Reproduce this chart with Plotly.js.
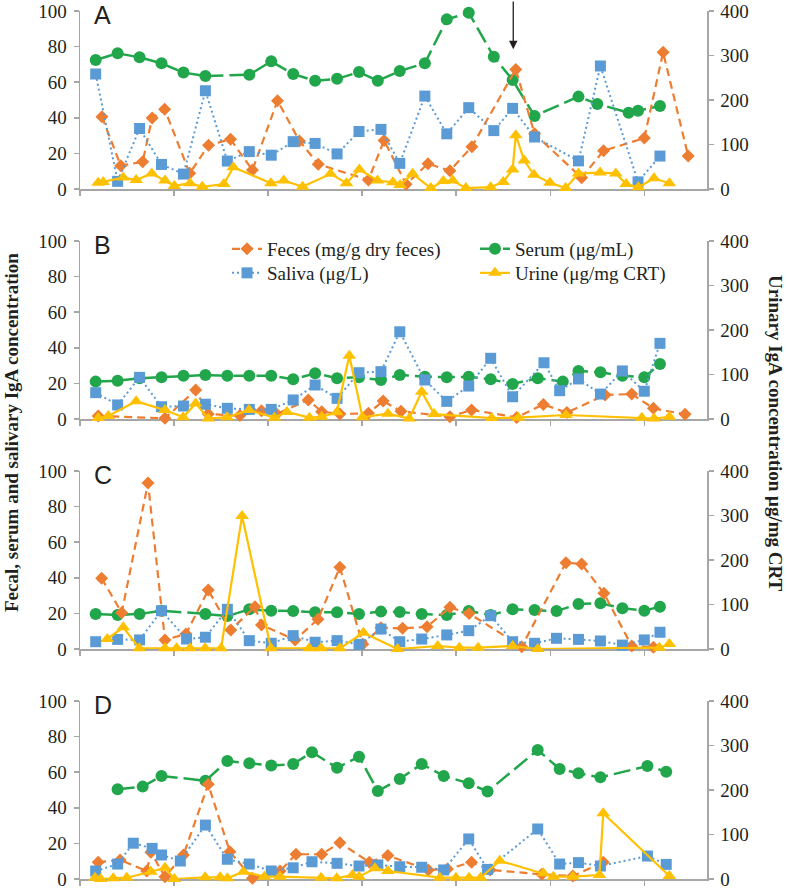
<!DOCTYPE html>
<html><head><meta charset="utf-8">
<script src="https://cdn.plot.ly/plotly-3.0.1.min.js"></script>
<style>html,body{margin:0;padding:0;background:#fff;}#chart{width:788px;height:889px;}</style>
</head><body><div id="chart"></div>
<script>
// ---------- DATA (x = day of sampling, y = concentration) ----------
const panelLabels = ['A', 'B', 'C', 'D'];
const seriesNames = ['Feces (mg/g dry feces)', 'Serum (μg/mL)', 'Saliva (μg/L)', 'Urine (μg/mg CRT)'];
const leftTicks = [0, 20, 40, 60, 80, 100];
const rightTicks = [0, 100, 200, 300, 400];

// Panel A
const serumDaysA = [5,12,19,26,33,40,54,61,68,75,82,89,95,102,110,117,124,132,138,145,159,165,175,178,185];
const serumA = [72.5,76.2,74.0,70.6,65.4,63.5,64.2,71.7,64.6,60.8,61.9,65.7,60.8,66.3,70.6,95.3,99.0,74.3,61.2,41.0,51.9,47.8,42.9,44.0,46.6];
const salivaDaysA = [5,12,19,26,33,40,47,54,61,68,75,82,89,96,102,110,117,124,132,138,145,159,166,178,185];
const salivaA = [64.6,4.3,34.0,13.8,8.4,55.2,15.7,21.0,19.0,26.6,25.6,19.7,32.3,33.5,14.4,52.2,31.0,45.7,32.8,45.3,29.2,15.8,69.1,4.0,18.5];
const fecesDaysA = [7,13,20,23,27,35,41,48,55,63,70,76,92,97,104,111,118,125,139,145,160,167,180,186,194];
const fecesA = [40.6,13.1,15.3,39.9,44.8,8.8,24.6,27.9,10.7,49.6,27.0,13.9,5.1,27.3,2.7,14.2,10.3,23.8,67.2,31.0,6.3,21.5,28.6,76.8,18.5];
const urineDaysA = [5.8,7.4,13.8,17.9,22.9,27.1,30.1,35.1,39.0,45.9,48.9,60.9,65.0,71.0,79.9,85.0,89.1,94.9,99.8,102.1,106.1,111.9,115.9,118.9,123.1,131.0,135.0,138.0,139.0,141.7,144.8,149.9,154.9,159.0,165.9,170.9,174.2,178.1,183.1,188.0];
const urineA = [14,16,26,20,35,19,7,13,5,11,49,13,19,5,34,13,44,19,15,9,34,2,18,19,2,4,16,44,121,64,32,14,2,35,37,35,11,4,24,13];

// Panel B
const serumDaysB = [5,12,19,26,33,40,47,54,61,68,75,82,89,96,102,110,117,124,131,138,146,154,159,166,173,180,185];
const serumB = [21.0,21.5,22.9,23.4,24.3,24.7,24.3,24.3,24.3,22.3,25.7,22.9,23.4,21.9,24.7,23.8,23.4,23.8,22.3,19.7,22.9,21.0,27.0,26.2,24.3,23.4,30.9];
const salivaDaysB = [5,12,19,26,33,40,47,54,61,68,75,82,89,96,102,110,117,124,131,138,148,153,159,166,173,180,185];
const salivaB = [14.8,7.9,23.4,6.9,7.3,8.3,6.0,5.4,5.4,10.7,19.1,11.6,26.0,26.6,49.0,21.9,9.9,18.5,34.1,12.5,31.6,15.9,22.5,14.0,27.0,15.6,42.5];
const fecesDaysB = [5.8,27.1,36.9,40.9,51.0,57.9,62.7,72.8,77.1,82.9,92.0,96.7,102.4,118.0,124.9,139.3,147.8,155.3,167.5,176.0,182.9,193.0];
const fecesB = [1.7,0.4,16.3,2.8,1.9,4.7,2.8,10.7,4.1,2.8,3.2,10.1,4.3,1.3,5.1,0.9,8.2,3.6,13.5,14.0,6.0,2.6];
const urineDaysB = [5.8,9.0,17.9,27.1,32.9,36.9,40.9,46.9,53.9,62.0,66.0,73.2,77.1,81.9,85.9,90.1,98.2,105.0,109.0,113.0,131.3,139.8,155.0,179.2,183.1,188.0];
const urineB = [2,7,40,20,4,35,1,4,20,3,16,3,5,15,142,4,12,1,61,11,2,3,9,3,1,5];

// Panel C
const serumDaysC = [5,12,19,26,40,47,54,61,68,75,82,89,96,102,109,117,124,131,138,145,152,159,166,173,180,185];
const serumC = [19.7,19.1,19.7,21.5,19.7,18.5,22.3,21.5,21.3,20.6,20.6,19.7,21.0,20.8,19.7,19.1,21.3,19.1,22.3,21.9,21.3,25.3,25.7,22.9,21.5,23.8];
const salivaDaysC = [5,12,19,26,34,40,47,54,61,68,75,82,89,96,102,109,117,124,131,138,145,152,159,166,173,180,185];
const salivaC = [4.1,5.4,5.1,21.5,5.6,6.6,22.3,4.7,3.2,7.5,3.8,4.7,2.6,11.2,4.1,5.6,7.9,10.3,18.7,4.1,3.2,6.0,5.4,4.5,2.2,5.1,9.4];
const fecesDaysC = [6.9,13.3,21.7,27.1,33.8,40.9,48.1,55.8,57.9,68.6,75.9,82.9,90.2,96.0,102.9,110.7,118.0,124.1,140.9,155.0,160.0,167.1,176.0,182.9];
const fecesC = [39.7,20.4,93.3,5.1,8.4,33.1,10.7,23.8,13.5,5.1,16.7,45.9,2.6,12.0,11.6,12.5,23.4,20.0,1.3,48.5,47.8,31.3,1.7,1.0];
const urineDaysC = [8.7,13.8,18.9,27.1,30.8,35.1,39.9,45.0,51.7,60.9,73.1,76.9,82.9,90.4,101.3,114.1,121.0,127.0,138.0,146.0,184.8,188.0];
const urineC = [22.5,48.8,1.6,1.6,1.6,1.6,1.6,1.6,299,1.6,1.6,1.6,1.6,36.6,0,6.7,3.0,3.0,6.7,0,3,11.2];

// Panel D
const serumDaysD = [12,20,26,40,47,54,61,68,74,82,89,95,102,109,116,124,130,146,153,159,166,181,187];
const serumD = [50.4,51.9,57.9,55.2,66.3,65.0,63.7,64.6,71.2,62.5,68.7,49.4,56.2,64.6,57.9,53.8,49.1,72.5,61.8,59.4,57.1,63.5,60.3];
const salivaDaysD = [5,12,17,23,26,32,40,47,54,61,68,74,82,89,95,102,109,116,124,130,146,153,159,166,181,187];
const salivaD = [4.5,8.4,20.1,17.2,13.5,10.1,30.3,11.1,8.4,4.5,6.3,9.7,8.8,7.3,7.9,6.9,6.6,5.1,22.5,5.4,28.1,8.4,9.2,7.3,12.9,8.2];
const fecesDaysD = [5.8,12.8,21.3,22.6,27.1,33.0,40.9,47.8,55.0,63.8,68.9,77.1,82.9,92.3,98.2,111.1,117.2,124.9,130.8,147.3,157.2,166.9];
const fecesD = [9.4,10.7,4.5,15.0,1.3,13.5,53.2,15.3,0.4,4.5,13.9,13.9,20.4,9.4,13.2,5.1,5.6,9.4,5.1,2.6,1.7,9.4];
const urineDaysD = [4.8,6.6,10.6,14.9,22.6,27.1,30.1,39.9,44.7,47.0,52.1,58.8,63.8,76.9,81.9,86.9,89.0,94.1,98.2,114.8,119.9,124.1,127.8,133.9,147.8,151.0,157.2,165.7,166.9,188.0];
const urineD = [2.9,0,1.6,2.9,16.4,25.4,0,3.8,3.8,1.6,16.4,5.2,5.2,2.9,1.6,9.0,5.2,24.0,18,2.9,2.9,2.9,2.9,41,12.8,5.2,5.2,9.0,147.6,6.7];

const arrowDay = 138.2;   // arrow marker in panel A

// ---------- BUILD ----------
const panels = [
  {serumX: serumDaysA, serum: serumA, salX: salivaDaysA, sal: salivaA, fecX: fecesDaysA, fec: fecesA, urX: urineDaysA, ur: urineA},
  {serumX: serumDaysB, serum: serumB, salX: salivaDaysB, sal: salivaB, fecX: fecesDaysB, fec: fecesB, urX: urineDaysB, ur: urineB},
  {serumX: serumDaysC, serum: serumC, salX: salivaDaysC, sal: salivaC, fecX: fecesDaysC, fec: fecesC, urX: urineDaysC, ur: urineC},
  {serumX: serumDaysD, serum: serumD, salX: salivaDaysD, sal: salivaD, fecX: fecesDaysD, fec: fecesD, urX: urineDaysD, ur: urineD}
];

const COL = {feces: '#ED7D31', serum: '#22A64B', saliva: '#5B9BD5', urine: '#FFC000'};
const AXC = '#A6A6A6';
const TXT = '#231F20';
const SERIF = 'Liberation Serif';

const H = 889, MT = 11, MB = 10, PH = 178, GAP = 230;
const plotH = H - MT - MB;
function dom(i) {
  const topPx = MT + i * GAP;          // pixel of value 100
  const botPx = topPx + PH;            // pixel of value 0
  return [(H - MB - botPx) / plotH, (H - MB - topPx) / plotH];
}

const legFont = {family: SERIF, size: 19, color: TXT};
function leg(xPx, topPx) {
  return {x: (xPx - 80) / 627, y: (H - MB - topPx) / plotH, xanchor: 'left', yanchor: 'top',
          bgcolor: 'rgba(0,0,0,0)', font: legFont, itemwidth: 30};
}

const traces = [];
const layout = {
  width: 788, height: 889,
  margin: {l: 80, r: 81, t: MT, b: MB, pad: 0},
  paper_bgcolor: '#fff', plot_bgcolor: 'rgba(0,0,0,0)',
  font: {family: SERIF, color: TXT, size: 19},
  showlegend: true,
  legend: leg(227, 230),    // Feces
  legend2: leg(475, 230),   // Serum
  legend3: leg(227, 254),   // Saliva
  legend4: leg(475, 254),   // Urine
  annotations: [],
  shapes: []
};

panels.forEach((p, i) => {
  const xn = i === 0 ? 'x' : 'x' + (i + 1);
  const yl = 'y' + (2 * i + 1 === 1 ? '' : (2 * i + 1));
  const yr = 'y' + (2 * i + 2);
  const xKey = i === 0 ? 'xaxis' : 'xaxis' + (i + 1);
  const ylKey = 'yaxis' + (2 * i + 1 === 1 ? '' : (2 * i + 1));
  const yrKey = 'yaxis' + (2 * i + 2);
  const d = dom(i);
  const common = {showline: true, linecolor: AXC, linewidth: 1.5, ticks: 'outside', ticklen: 5,
                  tickwidth: 1.5, tickcolor: AXC, showgrid: false, zeroline: false, layer: 'below traces',
                  fixedrange: true};
  layout[xKey] = Object.assign({}, common, {domain: [0, 1], range: [0, 200], anchor: yl,
                  tick0: 0, dtick: 30, showticklabels: false});
  layout[ylKey] = Object.assign({}, common, {domain: d, range: [0, 100], anchor: xn,
                  tickvals: leftTicks, ticktext: leftTicks.map(String), ticklabelstandoff: 3,
                  ticklabeloverflow: 'allow',
                  tickfont: {family: SERIF, size: 19, color: TXT}});
  layout[yrKey] = Object.assign({}, common, {range: [0, 400], overlaying: yl, side: 'right', anchor: xn,
                  tickvals: rightTicks, ticktext: rightTicks.map(String), ticklabelstandoff: 3,
                  ticklabeloverflow: 'allow',
                  tickfont: {family: SERIF, size: 19, color: TXT}});
  const show = i === 0;
  traces.push({type: 'scatter', mode: 'lines+markers', x: p.serumX, y: p.serum, xaxis: xn, yaxis: yl,
    name: seriesNames[1], legend: 'legend2', showlegend: show, cliponaxis: false,
    line: {color: COL.serum, width: 2.5, dash: '17px,6px'},
    marker: {symbol: 'circle', size: 12, color: COL.serum}});
  traces.push({type: 'scatter', mode: 'lines+markers', x: p.fecX, y: p.fec, xaxis: xn, yaxis: yl,
    name: seriesNames[0], legend: 'legend', showlegend: show, cliponaxis: false,
    line: {color: COL.feces, width: 2.2, dash: '8px,5px'},
    marker: {symbol: 'diamond', size: 10, color: COL.feces}});
  traces.push({type: 'scatter', mode: 'lines+markers', x: p.salX, y: p.sal, xaxis: xn, yaxis: yl,
    name: seriesNames[2], legend: 'legend3', showlegend: show, cliponaxis: false,
    line: {color: COL.saliva, width: 2, dash: '2px,3px'},
    marker: {symbol: 'square', size: 11, color: COL.saliva}});
  traces.push({type: 'scatter', mode: 'lines+markers', x: p.urX, y: p.ur, xaxis: xn, yaxis: yr,
    name: seriesNames[3], legend: 'legend4', showlegend: show, cliponaxis: false,
    line: {color: COL.urine, width: 2.2},
    marker: {symbol: 'triangle-up', size: 12, color: COL.urine}});

  layout.annotations.push({xref: 'paper', yref: 'paper', x: 12 / 627, y: d[1], xanchor: 'left',
    yanchor: 'middle', yshift: -4, text: panelLabels[i], showarrow: false,
    font: {family: 'Liberation Sans', size: 25, color: TXT}});
});

// arrow in panel A
layout.annotations.push({xref: 'x', yref: 'y', x: arrowDay, y: 78.5, ax: 0, ay: -50, text: '',
  showarrow: true, arrowhead: 2, arrowsize: 1.3, arrowwidth: 1.3, arrowcolor: TXT, standoff: 0});

// axis titles
layout.annotations.push({xref: 'paper', yref: 'paper', x: (12 - 80) / 627, y: (879 - 433) / 868,
  xanchor: 'center', yanchor: 'middle', textangle: -90, showarrow: false,
  text: 'Fecal, serum and salivary IgA concentration',
  font: {family: SERIF, size: 19, color: TXT, weight: 'bold'}});
layout.annotations.push({xref: 'paper', yref: 'paper', x: (775 - 80) / 627, y: (879 - 433) / 868,
  xanchor: 'center', yanchor: 'middle', textangle: 90, showarrow: false,
  text: 'Urinary IgA concentration μg/mg CRT',
  font: {family: SERIF, size: 19, color: TXT, weight: 'bold'}});

Plotly.newPlot('chart', traces, layout, {displayModeBar: false, staticPlot: true});
</script>
</body></html>
